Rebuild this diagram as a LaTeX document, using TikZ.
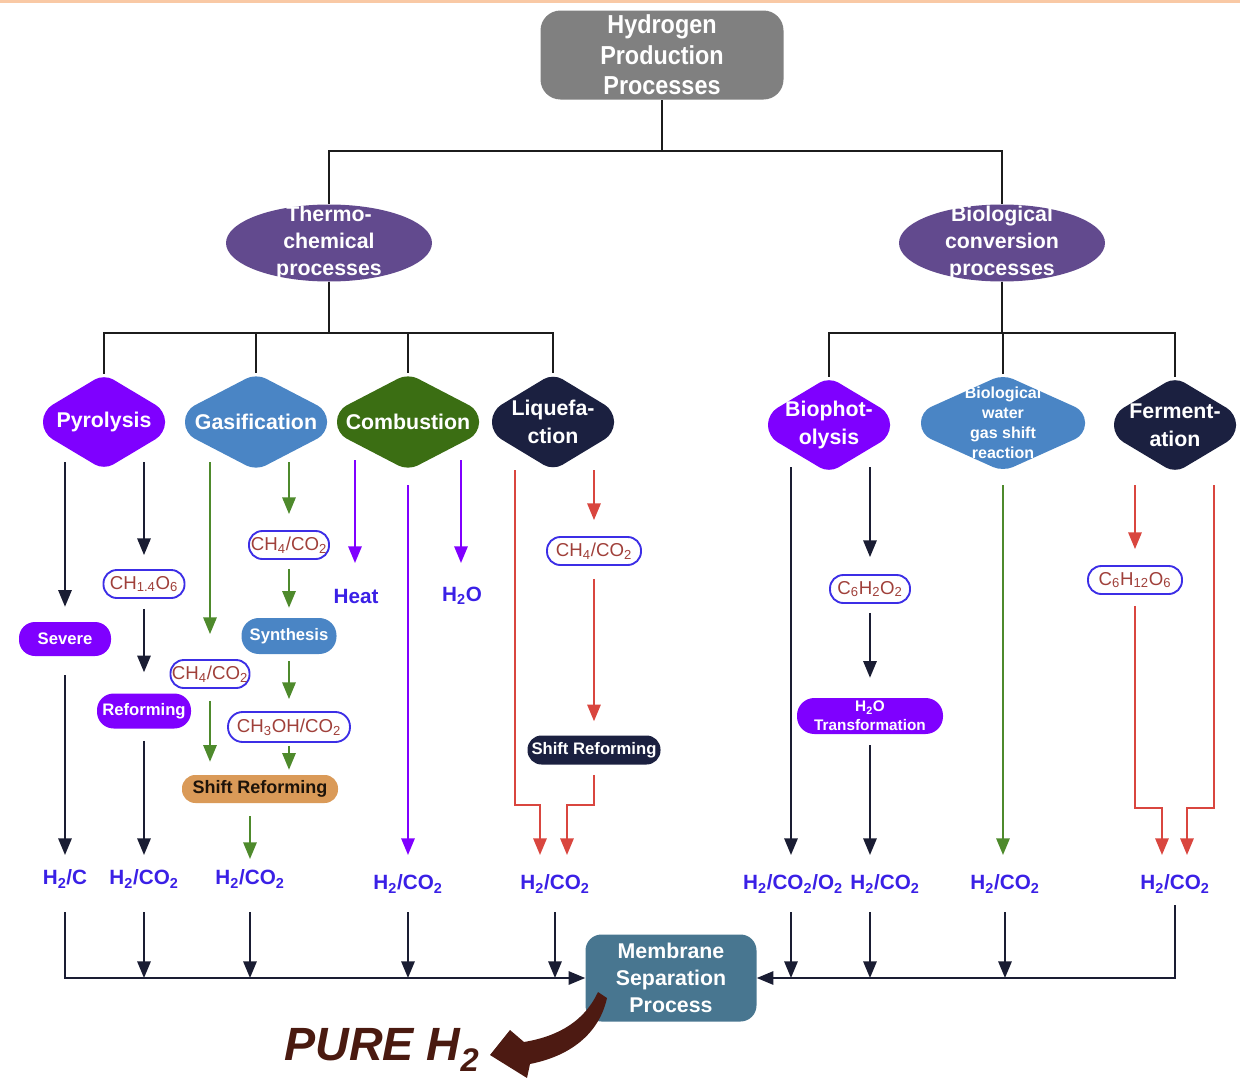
\documentclass[tikz,border=0pt]{standalone}
\usepackage{fontspec}
\setmainfont{Liberation Sans}
\newfontfamily\narrowsans{Liberation Sans}[FakeStretch=0.9]
\usetikzlibrary{arrows.meta,shapes.geometric}
\definecolor{violetc}{HTML}{7F00FF}
\definecolor{steelc}{HTML}{4A85C5}
\definecolor{dgreenc}{HTML}{3B6E13}
\definecolor{navyc}{HTML}{1B2040}
\definecolor{epurple}{HTML}{624A8E}
\definecolor{grayc}{HTML}{808080}
\definecolor{membc}{HTML}{487690}
\definecolor{lblue}{HTML}{3A20E6}
\definecolor{pillblue}{HTML}{3C2EE6}
\definecolor{chemred}{HTML}{A0403A}
\definecolor{greenarr}{HTML}{4E8A2C}
\definecolor{redarr}{HTML}{D9463F}
\definecolor{violetarr}{HTML}{8000FF}
\definecolor{navyarr}{HTML}{1A1D33}
\definecolor{linek}{HTML}{1C1C1C}
\definecolor{orangeline}{HTML}{F9C9A5}
\definecolor{orangepill}{HTML}{DA9A58}
\definecolor{brownc}{HTML}{4D1A12}
\definecolor{purec}{HTML}{4A1A10}
\newcommand\rdia[8]{%
  \fill[#6, rounded corners=8pt] (#2,#3) ++(0,{-#5/2}) -- ++({#4/2},{0.38*#5}) -- ++(0,{0.24*#5}) -- ++({-#4/2},{0.38*#5}) -- ++({-#4/2},{-0.38*#5}) -- ++(0,{-0.24*#5}) -- cycle;
  \node[dtext, minimum width=#4*0.75pt, minimum height=#5*0.75pt, #8] (#1) at (#2,#3) {#7};}
\begin{document}
\begin{tikzpicture}[x=0.75pt,y=-0.75pt,
  conn/.style={draw=linek, line width=1.5pt},
  arr/.style={line width=1.5pt, -{Triangle[length=12.5pt,width=10pt]}},
  dtext/.style={text=white, font=\bfseries\fontsize{16}{21}\selectfont, align=center, inner sep=0pt},
  etext/.style={text=white, font=\bfseries\fontsize{16}{20}\selectfont, align=center, inner sep=0pt},
  chem/.style={draw=pillblue, line width=1.4pt, fill=white, rounded corners=10pt, text=chemred, font=\fontsize{14}{15}\selectfont, inner sep=0pt, minimum height=21pt},
  proc/.style={text=white, font=\bfseries\fontsize{12.5}{15}\selectfont, align=center, inner sep=0pt},
  lbl/.style={text=lblue, font=\bfseries\fontsize{15.5}{18}\selectfont, inner sep=0pt}]
\useasboundingbox (0,0) rectangle (1240,1078);
\fill[orangeline] (0,0) rectangle (1240,2.5);

% top level
\node[fill=grayc, rounded corners=15pt, minimum width=182.25pt, minimum height=66.75pt, inner sep=0pt, text=white, align=center, font=\narrowsans\bfseries\fontsize{19.5}{23}\selectfont] (top) at (662,55) {Hydrogen\\Production\\Processes};
\node[ellipse, fill=epurple, minimum width=154.5pt, minimum height=57.75pt, inner sep=0pt] (thermo) at (329,243) {};
\node[etext] (thermot) at (329,243) {Thermo-\\chemical\\processes};
\node[ellipse, fill=epurple, minimum width=154.5pt, minimum height=57.75pt, inner sep=0pt] (bio) at (1002,243) {};
\node[etext] (biot) at (1002,243) {Biological\\conversion\\processes};

% diamonds
\rdia{pyro}{104}{422}{122}{96}{violetc}{Pyrolysis}{}
\rdia{gas}{256}{422}{142}{97}{steelc}{Gasification}{}
\rdia{comb}{408}{422}{142}{97}{dgreenc}{Combustion}{}
\rdia{liq}{553}{422}{122}{97}{navyc}{Liquefa-\\ction}{}
\rdia{bioph}{829}{425}{122}{96}{violetc}{Biophot-\\olysis}{}
\rdia{wgs}{1003}{423}{164}{97}{steelc}{Biological\\water\\gas shift\\reaction}{font=\bfseries\fontsize{12}{15}\selectfont}
\rdia{ferm}{1175}{425}{122}{96}{navyc}{Ferment-\\ation}{}

% tree connectors
\coordinate (hubA) at (662,151);
\draw[conn] (top) -- (hubA);
\draw[conn] (hubA) -| (thermo.north);
\draw[conn] (hubA) -| (bio.north);
\coordinate (hubB) at (329,333);
\draw[conn] (thermo.south) -- (hubB);
\foreach \n in {pyro,gas,comb,liq} \draw[conn] (hubB) -| (\n.north);
\coordinate (hubC) at (1002,333);
\draw[conn] (bio.south) -- (hubC);
\foreach \n in {bioph,wgs,ferm} \draw[conn] (hubC) -| (\n.north);

% labels
\node[lbl] (L1) at (65,879) {H\textsubscript{2}/C};
\node[lbl] (L2) at (144,879) {H\textsubscript{2}/CO\textsubscript{2}};
\node[lbl] (L3) at (250,879) {H\textsubscript{2}/CO\textsubscript{2}};
\node[lbl] (L4) at (408,884) {H\textsubscript{2}/CO\textsubscript{2}};
\node[lbl] (L5) at (555,884) {H\textsubscript{2}/CO\textsubscript{2}};
\node[lbl] (L6) at (793,884) {H\textsubscript{2}/CO\textsubscript{2}/O\textsubscript{2}};
\node[lbl] (L7) at (885,884) {H\textsubscript{2}/CO\textsubscript{2}};
\node[lbl] (L8) at (1005,884) {H\textsubscript{2}/CO\textsubscript{2}};
\node[lbl] (L9) at (1175,884) {H\textsubscript{2}/CO\textsubscript{2}};
\node[lbl] (heat) at (356,596) {Heat};
\node[lbl] (water) at (462,596) {H\textsubscript{2}O};

% Pyrolysis branch
\coordinate (p1) at (65,462);
\coordinate (p2) at (144,462);
\node[proc, fill=violetc, minimum width=69pt, minimum height=25.5pt, rounded corners=12pt] (severe) at (65,639) {Severe};
\node[chem, minimum width=60.75pt] (pch) at (144,584) {CH\textsubscript{1.4}O\textsubscript{6}};
\node[proc, fill=violetc, minimum width=70.5pt, minimum height=26.25pt, rounded corners=12.5pt] (pref) at (144,711) {Reforming};
\draw[arr, navyarr, shorten >=11.25pt] (p1) -- (severe.north);
\draw[arr, navyarr, shorten <=14.25pt, shorten >=18pt] (severe.south) -- (L1.center);
\draw[arr, navyarr, shorten >=10.5pt] (p2) -- (pch.north);
\draw[arr, navyarr, shorten <=7.5pt, shorten >=15.75pt] (pch.south) -- (pref.north);
\draw[arr, navyarr, shorten <=9pt, shorten >=18pt] (pref.south) -- (L2.center);

% Gasification branch
\coordinate (g1) at (210,462);
\coordinate (g2) at (289,462);
\node[chem, minimum width=59.25pt] (gch1) at (210,674) {CH\textsubscript{4}/CO\textsubscript{2}};
\node[chem, minimum width=60pt] (gch2) at (289,545) {CH\textsubscript{4}/CO\textsubscript{2}};
\node[proc, fill=steelc, minimum width=71.25pt, minimum height=27pt, rounded corners=13pt] (gsyn) at (289,636) {Synthesis};
\node[chem, minimum width=91.5pt, minimum height=22.5pt, rounded corners=11pt] (gch3) at (289,727) {CH\textsubscript{3}OH/CO\textsubscript{2}};
\node[proc, fill=orangepill, text=black!85!brown, minimum width=117pt, minimum height=21pt, rounded corners=10pt, font=\bfseries\fontsize{13.5}{15}\selectfont] (gsr) at (260,789) {Shift Reforming};
\draw[arr, greenarr, shorten >=18.75pt] (g1) -- (gch1.north);
\draw[arr, greenarr, shorten <=9pt, shorten >=9.75pt] (gch1.south) -- (gch1.south |- gsr.north);
\draw[arr, greenarr, shorten <=9.75pt, shorten >=15pt] (L3.center |- gsr.south) -- (L3.center);
\draw[arr, greenarr, shorten >=12pt] (g2) -- (gch2.north);
\draw[arr, greenarr, shorten <=6.75pt, shorten >=7.5pt] (gch2.south) -- (gsyn.north);
\draw[arr, greenarr, shorten <=5.25pt, shorten >=9pt] (gsyn.south) -- (gch3.north);
\draw[arr, greenarr, shorten <=2.25pt, shorten >=3.75pt] (gch3.south) -- (gch3.south |- gsr.north);

% Combustion branch
\coordinate (c1) at (355,460);
\coordinate (c2) at (408,485);
\coordinate (c3) at (461,460);
\draw[arr, violetarr, shorten >=24.75pt] (c1) -- (c1 |- heat.center);
\draw[arr, violetarr, shorten >=21.75pt] (c2) -- (L4.center);
\draw[arr, violetarr, shorten >=24.75pt] (c3) -- (c3 |- water.center);

% Liquefaction branch
\coordinate (q1) at (515,470);
\coordinate (q2) at (594,470);
\coordinate (q1m) at (540,805);
\coordinate (q2m) at (567,805);
\node[chem, minimum width=70.5pt] (lqch) at (594,551) {CH\textsubscript{4}/CO\textsubscript{2}};
\node[proc, fill=navyc, minimum width=99.75pt, minimum height=21.75pt, rounded corners=10.5pt] (lqsr) at (594,750) {Shift Reforming};
\draw[arr, redarr, shorten >=21.75pt] (q1) |- (q1m) -- (q1m |- L5.center);
\draw[arr, redarr, shorten >=12pt] (q2) -- (lqch.north);
\draw[arr, redarr, shorten <=9.75pt, shorten >=10.5pt] (lqch.south) -- (lqsr.north);
\draw[arr, redarr, shorten <=7.5pt, shorten >=21.75pt] (lqsr.south) |- (q2m) -- (q2m |- L5.center);

% Biophotolysis branch
\coordinate (b1) at (791,467);
\coordinate (b2) at (870,467);
\node[chem, minimum width=60pt] (bpch) at (870,589) {C\textsubscript{6}H\textsubscript{2}O\textsubscript{2}};
\node[proc, fill=violetc, minimum width=109.5pt, minimum height=27pt, rounded corners=13pt, font=\bfseries\fontsize{11.5}{14}\selectfont] (bptr) at (870,716) {H\textsubscript{2}O\\Transformation};
\draw[arr, navyarr, shorten >=21.75pt] (b1) -- (b1 |- L6.center);
\draw[arr, navyarr, shorten >=12.75pt] (b2) -- (bpch.north);
\draw[arr, navyarr, shorten <=6.75pt, shorten >=15pt] (bpch.south) -- (bptr.north);
\draw[arr, navyarr, shorten <=8.25pt, shorten >=21.75pt] (bptr.south) -- (bptr.south |- L7.center);

% WGS branch
\coordinate (w1) at (1003,485);
\draw[arr, greenarr, shorten >=21.75pt] (w1) -- (w1 |- L8.center);

% Fermentation branch
\coordinate (f1) at (1135,485);
\coordinate (f2) at (1214,485);
\coordinate (f1m) at (1162,808);
\coordinate (f2m) at (1187,808);
\node[chem, minimum width=70.5pt] (fech) at (1135,580) {C\textsubscript{6}H\textsubscript{12}O\textsubscript{6}};
\draw[arr, redarr, shorten >=12pt] (f1) -- (fech.north);
\draw[arr, redarr, shorten <=8.25pt, shorten >=21.75pt] (fech.south) |- (f1m) -- (f1m |- L9.center);
\draw[arr, redarr, shorten >=21.75pt] (f2) |- (f2m) -- (f2m |- L9.center);

% Membrane and collection
\node[fill=membc, rounded corners=12pt, minimum width=128.25pt, minimum height=65.25pt, inner sep=0pt, text=white, align=center, font=\bfseries\fontsize{16}{20}\selectfont] (memb) at (671,978) {Membrane\\Separation\\Process};
\draw[arr, navyarr, shorten <=24.75pt] (L1.center) |- (memb.west);
\draw[arr, navyarr, shorten <=16pt] (L9.center) |- (memb.east);
\foreach \l in {L2,L3} \draw[arr, navyarr, shorten <=24.75pt] (\l.center) -- (\l.center |- memb.west);
\foreach \l in {L4,L5,L8} \draw[arr, navyarr, shorten <=21pt] (\l.center) -- (\l.center |- memb.west);
\draw[arr, navyarr, shorten <=21pt] (b1 |- L6.center) -- (b1 |- memb.west);
\draw[arr, navyarr, shorten <=21pt] (bptr.south |- L7.center) -- (bptr.south |- memb.west);

% PURE H2
\fill[brownc] (598,992) .. controls (585,1020) and (560,1036) .. (524,1042) -- (510,1030) -- (490,1055) -- (527,1078) -- (530,1064) .. controls (575,1055) and (600,1030) .. (607,998) -- cycle;
\node[text=purec, inner sep=0pt, font=\bfseries\itshape\fontsize{35}{40}\selectfont] (pure) at (382,1050) {PURE H\textsubscript{2}};
\end{tikzpicture}
\end{document}
